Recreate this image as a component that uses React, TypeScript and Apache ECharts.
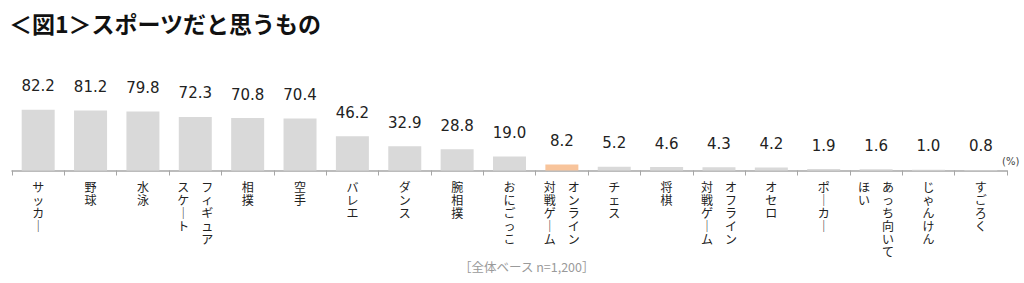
import React, { useEffect, useRef } from "react";
import * as echarts from "echarts";

const categories = [
  "サッカー",
  "野球",
  "水泳",
  "フィギュア\nスケート",
  "相撲",
  "空手",
  "バレエ",
  "ダンス",
  "腕相撲",
  "おにごっこ",
  "オンライン\n対戦ゲーム",
  "チェス",
  "将棋",
  "オフライン\n対戦ゲーム",
  "オセロ",
  "ポーカー",
  "あっち向いて\nほい",
  "じゃんけん",
  "すごろく",
];
const values = [82.2, 81.2, 79.8, 72.3, 70.8, 70.4, 46.2, 32.9, 28.8, 19.0, 8.2, 5.2, 4.6, 4.3, 4.2, 1.9, 1.6, 1.0, 0.8];
const highlighted = ["オンライン\n対戦ゲーム"];

const titleText = "＜図1＞スポーツだと思うもの";
const noteText = "［全体ベース n=1,200］";
const unitText = "(%)";

function toVertical(label: string): string {
  const cols = label.split("\n").map((c) => Array.from(c.replace(/ー/g, "｜")));
  const ordered = cols.slice().reverse(); // first column is rightmost
  const maxLen = Math.max(...cols.map((c) => c.length));
  const rows: string[] = [];
  for (let i = 0; i < maxLen; i++) {
    rows.push(ordered.map((c) => c[i] ?? "　").join("　"));
  }
  return rows.join("\n");
}

export default function App() {
  const ref = useRef<HTMLDivElement>(null);
  useEffect(() => {
    document.body.style.margin = "0";
    const chart = echarts.init(ref.current!, undefined, { renderer: "svg" });
    chart.setOption({
      animation: false,
      backgroundColor: "#ffffff",
      grid: { left: 12, right: 17, top: 96.5, bottom: 112.5, containLabel: false },
      xAxis: {
        type: "category",
        data: categories,
        axisLine: { lineStyle: { color: "#a6a6a6", width: 1.5 } },
        axisTick: { show: true, length: 5, lineStyle: { color: "#a6a6a6" } },
        axisLabel: {
          interval: 0,
          margin: 9,
          color: "#222222",
          fontFamily: "Noto Sans CJK JP",
          fontSize: 12,
          lineHeight: 13,
          verticalAlign: "top",
          align: "center",
          formatter: (v: string) => toVertical(v),
        },
      },
      yAxis: {
        type: "value",
        min: 0,
        max: 100,
        show: false,
        splitLine: { show: false },
      },
      series: [
        {
          type: "bar",
          barWidth: 33,
          data: values.map((v, i) => ({
            value: v,
            itemStyle: { color: highlighted.includes(categories[i]) ? "#f8c49b" : "#d9d9d9" },
          })),
          label: {
            show: true,
            position: "top",
            distance: 16,
            color: "#222222",
            fontFamily: "DejaVu Sans",
            fontSize: 15,
            formatter: (p: any) => Number(p.value).toFixed(1),
          },
        },
      ],
      graphic: [
        {
          type: "text",
          left: 9,
          top: 11,
          style: {
            text: titleText,
            fontFamily: "Noto Sans CJK JP",
            fontWeight: "bold",
            fontSize: 23,
            fill: "#111111",
          },
        },
        {
          type: "text",
          left: 1002,
          top: 156,
          style: {
            text: unitText,
            fontFamily: "DejaVu Sans",
            fontSize: 10,
            fill: "#444444",
          },
        },
        {
          type: "text",
          left: 459,
          top: 260,
          style: {
            text: noteText,
            fontFamily: "Noto Sans CJK JP",
            fontSize: 12.5,
            fill: "#9a9a9a",
          },
        },
      ],
    });
    return () => chart.dispose();
  }, []);
  return <div ref={ref} style={{ width: 1024, height: 283 }} />;
}
